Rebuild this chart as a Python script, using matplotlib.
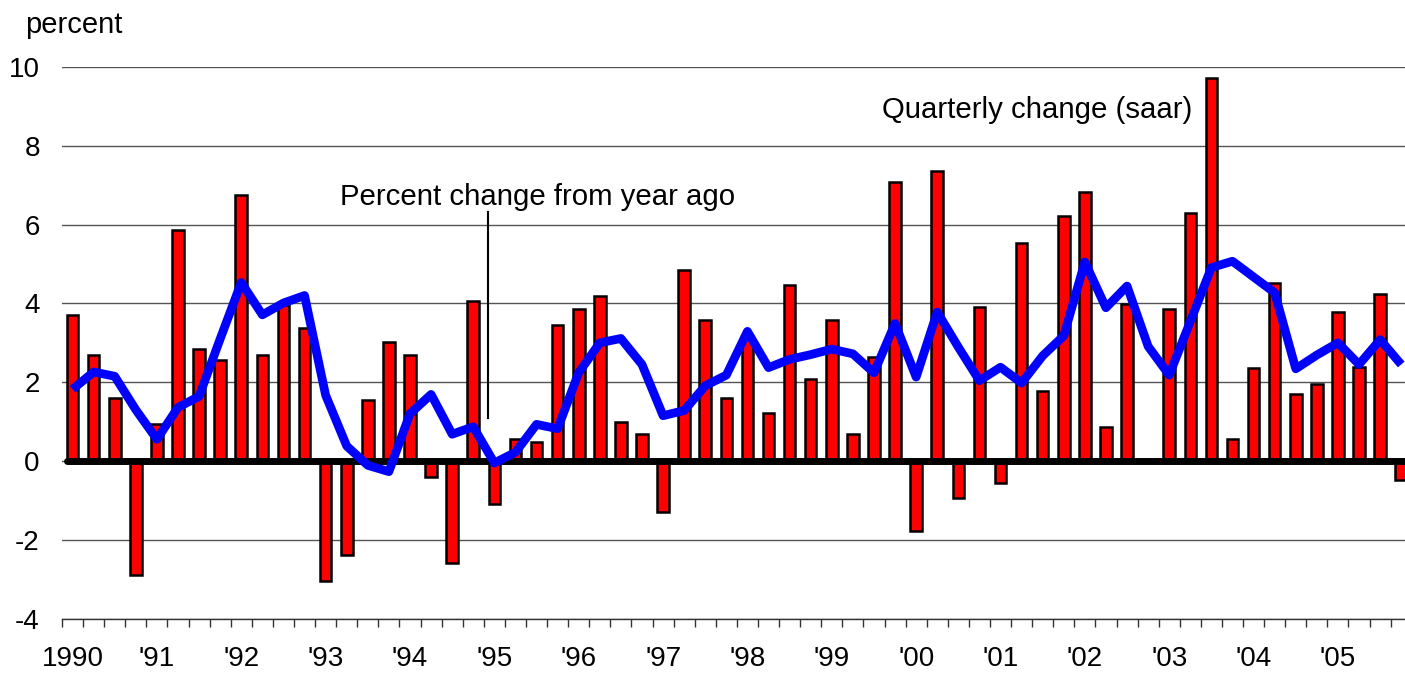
import numpy as np
import matplotlib
matplotlib.use("Agg")
import matplotlib.pyplot as plt
from matplotlib.ticker import FixedLocator

plt.rcParams["font.family"] = ["Liberation Sans", "DejaVu Sans"]

# Quarterly change (saar), 1990Q1 - 2005Q4
quarterly_change = [
    3.7, 2.7, 1.6, -2.9, 0.93, 5.87, 2.84, 2.56, 6.76, 2.69,
    3.96, 3.38, -3.05, -2.38, 1.55, 3.03, 2.69, -0.41, -2.58, 4.06,
    -1.09, 0.55, 0.47, 3.44, 3.85, 4.2, 1.0, 0.68, -1.29, 4.85,
    3.58, 1.61, 3.1, 1.21, 4.47, 2.09, 3.58, 0.68, 2.64, 7.09,
    -1.77, 7.36, -0.95, 3.91, -0.55, 5.53, 1.77, 6.22, 6.82, 0.87,
    3.98, 0.02, 3.85, 6.29, 9.73, 0.55, 2.37, 4.53, 1.69, 1.96,
    3.78, 2.38, 4.25, -0.49,
]

# Percent change from year ago
year_ago_change = [
    1.82, 2.26, 2.15, 1.3, 0.55, 1.36, 1.64, 3.1, 4.53, 3.71,
    4.01, 4.2, 1.67, 0.38, -0.11, -0.27, 1.2, 1.69, 0.68, 0.87,
    -0.05, 0.22, 0.93, 0.82, 2.24, 3.0, 3.11, 2.45, 1.15, 1.28,
    1.91, 2.18, 3.29, 2.37, 2.58, 2.7, 2.84, 2.72, 2.24, 3.49,
    2.13, 3.78, 2.89, 2.04, 2.38, 1.98, 2.67, 3.18, 5.05, 3.89,
    4.44, 2.91, 2.18, 3.54, 4.91, 5.07, 4.67, 4.27, 2.34, 2.69,
    3.0, 2.45, 3.08, 2.45,
]

year_labels = ["1990", "'91", "'92", "'93", "'94", "'95", "'96", "'97",
               "'98", "'99", "'00", "'01", "'02", "'03", "'04", "'05"]

x = np.arange(len(quarterly_change))

fig = plt.figure(figsize=(14.05, 6.73), dpi=100)
ax = fig.add_axes([62 / 1405, 54.4 / 673, 1343 / 1405, 551.6 / 673])

# gridlines
ax.set_ylim(-4, 10)
ax.set_yticks(np.arange(-4, 11, 2))
ax.yaxis.grid(True, color="#555555", linewidth=1)
ax.set_axisbelow(True)

ax.bar(x, quarterly_change, width=0.55, color="#ff0000",
       edgecolor="black", linewidth=1.8, zorder=2)

# thick zero line
ax.hlines(0, -0.25, len(x), color="black", linewidth=5, zorder=3,
          capstyle="round")

ax.plot(x, year_ago_change, color="#0000ff", linewidth=6.3, zorder=4,
        solid_joinstyle="round", solid_capstyle="butt")

ax.set_xlim(-0.5, -0.5 + 1343 / 21.09)

# year labels at Q1 of each year, small ticks at quarter boundaries
ax.set_xticks(x[::4])
ax.set_xticklabels(year_labels)
ax.xaxis.set_minor_locator(FixedLocator(np.arange(-0.5, len(x) + 0.5, 1)))
ax.tick_params(axis="x", which="major", length=0, pad=20, labelsize=20)
ax.tick_params(axis="x", which="minor", length=6, width=1, color="#333333",
               direction="out")
ax.tick_params(axis="y", length=0, pad=16, labelsize=20)
ax.set_yticklabels([str(v) for v in range(-4, 11, 2)])

for side in ["top", "right", "left"]:
    ax.spines[side].set_visible(False)
ax.spines["bottom"].set_color("#333333")
ax.spines["bottom"].set_linewidth(1)

ax.text(12.68, 6.5, "Percent change from year ago", fontsize=21.2,
        va="baseline", ha="left")
ax.plot([19.7, 19.7], [6.32, 1.09], color="black", linewidth=1.5, zorder=5)
ax.text(38.38, 8.7, "Quarterly change (saar)", fontsize=21.2,
        va="baseline", ha="left")

fig.text(25 / 1405, 1 - 33 / 673, "percent", fontsize=21, va="baseline",
         ha="left")

fig.savefig("out.png", dpi=100)
plt.close(fig)
